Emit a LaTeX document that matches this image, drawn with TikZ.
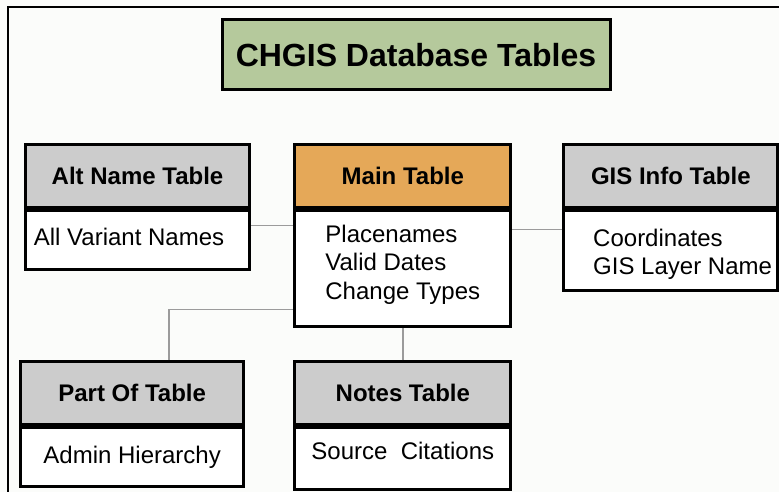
\documentclass[tikz,border=0pt]{standalone}
\usepackage{fontspec}
\setmainfont{Liberation Sans}
\usepackage{tikz}
\usepackage{xcolor}
\definecolor{titlegreen}{RGB}{181,201,156}
\definecolor{mainorange}{RGB}{229,168,88}
\definecolor{headgray}{RGB}{204,204,204}
\definecolor{linkgray}{RGB}{155,155,155}
\definecolor{paper}{RGB}{251,252,250}

\begin{document}
\begin{tikzpicture}[x=1pt,y=-1pt,
  head/.style={draw,line width=3pt,fill=headgray,anchor=north west,inner sep=0pt,minimum height=63pt,font=\fontsize{24}{28.3}\selectfont\bfseries},
  body/.style={draw,line width=3pt,fill=white,anchor=north west,inner sep=0pt,align=left,font=\fontsize{24}{28.3}\selectfont},
  link/.style={draw=linkgray,line width=1.5pt}]
\useasboundingbox[fill=paper] (0,0) rectangle (779,492);
\draw [line width=2pt] (8.3,492) -- (8.3,6.7) -- (779,6.7);
\node [draw,line width=3pt,fill=titlegreen,anchor=north west,inner sep=0pt,minimum width=388pt,minimum height=70pt,font=\fontsize{32}{38}\selectfont\bfseries] (title) at (220.5,18.5) {CHGIS Database Tables};
\node [head,minimum width=224.6pt] (althead) at (23.7,143.3) {Alt Name Table};
\node [body,minimum width=224.6pt,minimum height=58.7pt] (altbody) at (althead.south west) {All Variant Names\hspace*{17pt}\rule[-6pt]{0pt}{0pt}};
\node [head,fill=mainorange,minimum width=216pt] (mainhead) at (293.3,143.3) {Main Table};
\node [body,minimum width=216pt,minimum height=116pt] (mainbody) at (mainhead.south west) {Placenames\\Valid Dates\\Change Types\rule[-13pt]{0pt}{0pt}};
\node [head,minimum width=214pt] (gishead) at (562.3,143.3) {GIS Info Table};
\node [body,minimum width=214pt,minimum height=79.4pt] (gisbody) at (gishead.south west) {\hspace*{23.6pt}Coordinates\rule{0pt}{25.5pt}\\\hspace*{23.6pt}GIS Layer Name};
\node [head,minimum width=223.3pt] (parthead) at (19,360) {Part Of Table};
\node [body,minimum width=223.3pt,minimum height=58.7pt] (partbody) at (parthead.south west) {Admin Hierarchy};
\node [head,minimum width=216pt] (noteshead) at (293.3,360) {Notes Table};
\node [body,minimum width=216pt,minimum height=62pt] (notesbody) at (noteshead.south west) {Source~~Citations\rule[-15pt]{0pt}{0pt}};
\draw [link] ([yshift=14.6pt]altbody.east) -- ([yshift=14.6pt]altbody.east -| mainbody.west);
\draw [link] ([yshift=21pt]gisbody.west) -- ([yshift=21pt]gisbody.west -| mainbody.east);
\draw [link] ([xshift=37pt]parthead.north) |- ([yshift=-40.7pt]mainbody.west);
\draw [link] (noteshead.north) -- (mainbody.south);
\end{tikzpicture}
\end{document}
